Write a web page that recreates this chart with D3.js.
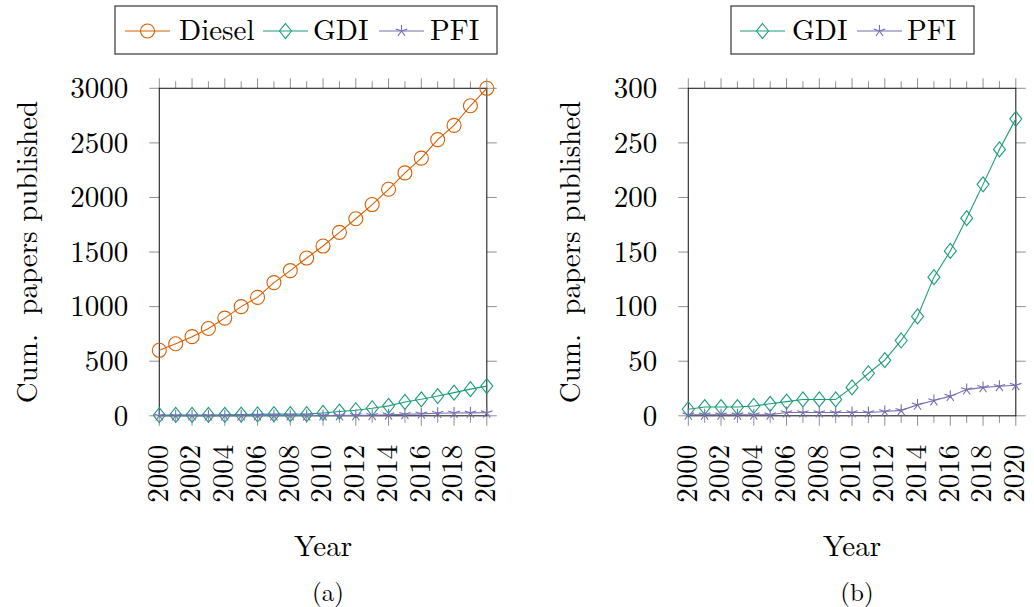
<!DOCTYPE html>
<html>
<head>
<meta charset="utf-8">
<script src="https://cdn.jsdelivr.net/npm/d3@7"></script>
<style>
  html, body { margin: 0; padding: 0; background: #fff; }
  svg { display: block; }
</style>
</head>
<body>
<svg id="chart" width="1034" height="607"></svg>
<script>
// Cumulative papers published per year, by engine type
const years = d3.range(2000, 2021);
const diesel = [600, 660, 725, 800, 895, 1000, 1085, 1220, 1330, 1445, 1555, 1680, 1805, 1935, 2075, 2225, 2360, 2530, 2660, 2840, 3000];
const gdi    = [6, 8, 8, 8, 9, 11, 13, 15, 15, 15, 26, 39, 51, 69, 91, 127, 151, 181, 212, 244, 272];
const pfi    = [1, 1, 1, 1, 1, 1, 3, 3, 3, 3, 3, 3, 4, 5, 10, 14, 18, 24, 26, 27, 28];

const xTickLabels = [2000, 2002, 2004, 2006, 2008, 2010, 2012, 2014, 2016, 2018, 2020];
const yTicksA = [0, 500, 1000, 1500, 2000, 2500, 3000];
const yTicksB = [0, 50, 100, 150, 200, 250, 300];

const colors = { Diesel: "#d95f02", GDI: "#1b9e77", PFI: "#7570b3" };
const markers = { Diesel: "circle", GDI: "diamond", PFI: "star" };

const FONT = '"Latin Modern Roman", "Liberation Serif", serif';
const svg = d3.select("#chart").attr("font-family", FONT);
const FS = 29;
const tickColor = "#8f8f8f";

function label(sel) {
  return sel.attr("font-family", FONT).attr("fill", "#000");
}

function drawMarker(g, type, cx, cy, color) {
  if (type === "circle") {
    g.append("circle").attr("cx", cx).attr("cy", cy).attr("r", 7)
      .attr("fill", "none").attr("stroke", color).attr("stroke-width", 1.1);
  } else if (type === "diamond") {
    const w = 6, h = 7.5;
    g.append("path")
      .attr("d", `M${cx},${cy - h}L${cx + w},${cy}L${cx},${cy + h}L${cx - w},${cy}Z`)
      .attr("fill", "none").attr("stroke", color).attr("stroke-width", 1.1);
  } else {
    const r = 6;
    let d = "";
    for (let k = 0; k < 5; k++) {
      const a = -Math.PI / 2 + k * 2 * Math.PI / 5;
      d += `M${cx},${cy}L${cx + r * Math.cos(a)},${cy + r * Math.sin(a)}`;
    }
    g.append("path").attr("d", d).attr("fill", "none")
      .attr("stroke", color).attr("stroke-width", 1.1);
  }
}

function panel(opts) {
  const { left, top, size, yMax, yTicks, series, yLabelX, tag, legend } = opts;
  const x = d3.scaleLinear().domain([2000, 2020]).range([left, left + size]);
  const y = d3.scaleLinear().domain([0, yMax]).range([top + size, top]);
  const g = svg.append("g");

  // tick marks on all four sides, pointing outward
  const tg = g.append("g").attr("stroke", tickColor).attr("stroke-width", 1);
  years.forEach(yr => {
    const len = (yr % 2 === 0) ? 10 : 7;
    tg.append("line").attr("x1", x(yr)).attr("x2", x(yr))
      .attr("y1", y(0)).attr("y2", y(0) + len);
    tg.append("line").attr("x1", x(yr)).attr("x2", x(yr))
      .attr("y1", y(yMax)).attr("y2", y(yMax) - len);
  });
  yTicks.forEach(v => {
    tg.append("line").attr("x1", x(2000) - 10).attr("x2", x(2000))
      .attr("y1", y(v)).attr("y2", y(v));
    tg.append("line").attr("x1", x(2020)).attr("x2", x(2020) + 10)
      .attr("y1", y(v)).attr("y2", y(v));
  });

  // frame
  g.append("rect").attr("x", x(2000)).attr("y", y(yMax))
    .attr("width", x(2020) - x(2000)).attr("height", y(0) - y(yMax))
    .attr("fill", "none").attr("stroke", "#222").attr("stroke-width", 1.1);

  // y tick labels
  g.append("g").selectAll("text").data(yTicks).join("text")
    .call(label)
    .attr("x", x(2000) - 31).attr("y", d => y(d)).attr("dy", "0.34em")
    .attr("text-anchor", "end").attr("font-size", FS).text(d => d);

  // x tick labels, rotated
  g.append("g").selectAll("text").data(xTickLabels).join("text")
    .call(label)
    .attr("transform", d => `translate(${x(d) - 1.5},${y(0) + 29}) rotate(-90)`)
    .attr("dy", "0.34em").attr("text-anchor", "end").attr("font-size", FS).text(d => d);

  // axis titles
  g.append("text").call(label)
    .attr("transform", `translate(${yLabelX},${(y(0) + y(yMax)) / 2}) rotate(-90)`)
    .attr("text-anchor", "middle").attr("font-size", FS)
    .attr("xml:space", "preserve").style("white-space", "pre")
    .text("Cum.  papers published");
  g.append("text").call(label).attr("x", (x(2000) + x(2020)) / 2).attr("y", 556)
    .attr("text-anchor", "middle").attr("font-size", FS).text("Year");
  g.append("text").call(label).attr("x", (x(2000) + x(2020)) / 2 + 5).attr("y", 601)
    .attr("text-anchor", "middle").attr("font-size", 25).text(tag);

  // series
  const line = d3.line().x((d, i) => x(years[i])).y(d => y(d));
  series.forEach(s => {
    const sg = g.append("g");
    sg.append("path").datum(s.values).attr("d", line)
      .attr("fill", "none").attr("stroke", colors[s.name]).attr("stroke-width", 1.1);
    s.values.forEach((v, i) => drawMarker(sg, markers[s.name], x(years[i]), y(v), colors[s.name]));
  });

  // legend
  const lg = svg.append("g");
  lg.append("rect").attr("x", legend.x).attr("y", 6).attr("width", legend.w).attr("height", 48)
    .attr("fill", "#fff").attr("stroke", "#222").attr("stroke-width", 1.1);
  legend.items.forEach(it => {
    const c = colors[it.name];
    lg.append("line").attr("x1", it.lx).attr("x2", it.lx + 45).attr("y1", 31).attr("y2", 31)
      .attr("stroke", c).attr("stroke-width", 1.1);
    drawMarker(lg, markers[it.name], it.lx + 22.5, 31, c);
    lg.append("text").call(label).attr("x", it.tx).attr("y", 40).attr("font-size", FS).text(it.name);
  });
}

panel({
  left: 159.3, top: 88.3, size: 327.5, yMax: 3000, yTicks: yTicksA, yLabelX: 37, tag: "(a)",
  series: [
    { name: "Diesel", values: diesel },
    { name: "GDI", values: gdi },
    { name: "PFI", values: pfi }
  ],
  legend: {
    x: 115, w: 382,
    items: [
      { name: "Diesel", lx: 125, tx: 179 },
      { name: "GDI", lx: 263, tx: 313 },
      { name: "PFI", lx: 379, tx: 430 }
    ]
  }
});

panel({
  left: 688.3, top: 88.3, size: 327.5, yMax: 300, yTicks: yTicksB, yLabelX: 580, tag: "(b)",
  series: [
    { name: "GDI", values: gdi },
    { name: "PFI", values: pfi }
  ],
  legend: {
    x: 731, w: 243,
    items: [
      { name: "GDI", lx: 740, tx: 792 },
      { name: "PFI", lx: 857, tx: 907 }
    ]
  }
});
</script>
</body>
</html>
